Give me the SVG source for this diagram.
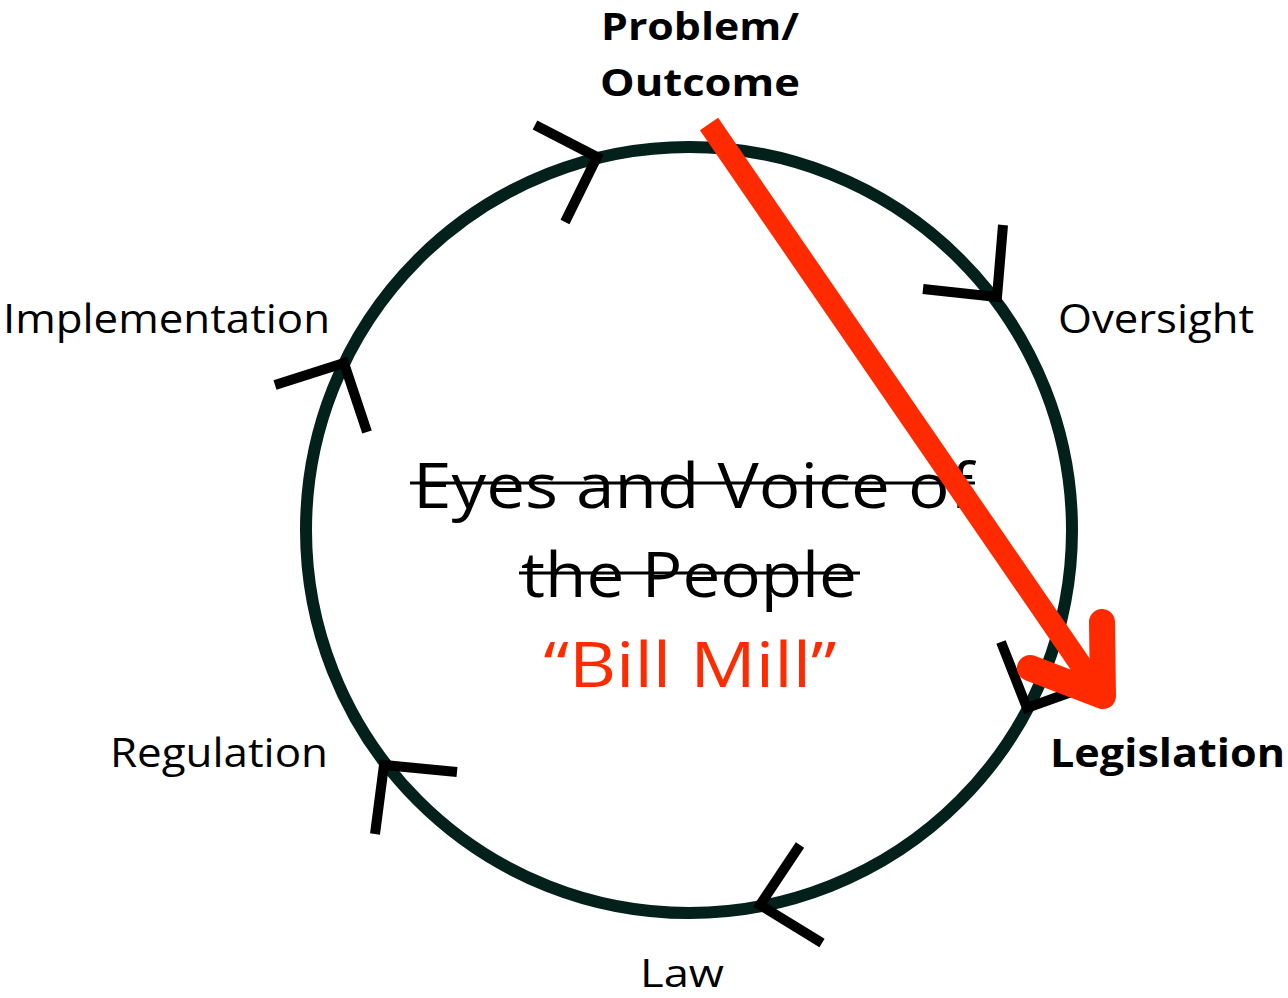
<svg xmlns="http://www.w3.org/2000/svg" width="1288" height="998" viewBox="0 0 1288 998">
<style>
.lbl{font-family:"Open Sans","Liberation Sans",sans-serif;font-size:40px;fill:#000}
.b{font-weight:bold}
.chev{fill:none;stroke:#000;stroke-width:10;stroke-linejoin:miter;stroke-linecap:butt}
.big{font-family:"Open Sans","Liberation Sans",sans-serif;font-size:62px;fill:#000}
.strike{stroke:#000;stroke-width:3}
</style>
<rect width="1288" height="998" fill="#fff"/>
<g id="cycle">
<circle cx="689" cy="530" r="383" fill="none" stroke="#03201a" stroke-width="12"/>
</g>
<g id="connectors">
<polyline class="chev" points="535,125 597,157 565,222"/>
<polyline class="chev" points="1003,225 997,297 923,289"/>
<polyline class="chev" points="1001,642 1027,708 1077,690"/>
<polyline class="chev" points="367,432 344,363 275,385"/>
<polyline class="chev" points="375,834 384,765 457,772"/>
<polyline class="chev" points="822,943 760,905 800,845"/>
</g>
<g id="center">
<text class="big" x="693" y="508" text-anchor="middle" textLength="560" lengthAdjust="spacingAndGlyphs">Eyes and Voice of</text>
<line class="strike" x1="410" y1="483" x2="975" y2="483"/>
<text class="big" x="689" y="597" text-anchor="middle" textLength="336" lengthAdjust="spacingAndGlyphs">the People</text>
<line class="strike" x1="519" y1="573" x2="860" y2="573"/>
<text class="big" x="690" y="687" text-anchor="middle" style="fill:#ff2a00" textLength="293" lengthAdjust="spacingAndGlyphs">“Bill Mill”</text>
</g>
<g id="red-arrow">
<line x1="709" y1="124" x2="1098" y2="690" stroke="#ff2a00" stroke-width="22" stroke-linecap="butt"/>
<polyline points="1030,668 1103,696 1102,622" fill="none" stroke="#ff2a00" stroke-width="26" stroke-linecap="round" stroke-linejoin="round"/>
</g>
<g id="node-problem">
<text class="lbl b" x="700" y="40" text-anchor="middle" style="font-size:38px" textLength="198" lengthAdjust="spacingAndGlyphs">Problem/</text>
<text class="lbl b" x="700" y="96" text-anchor="middle" style="font-size:38px" textLength="200" lengthAdjust="spacingAndGlyphs">Outcome</text>
</g>
<g id="node-oversight"><text class="lbl" x="1058" y="333" textLength="196" lengthAdjust="spacingAndGlyphs">Oversight</text></g>
<g id="node-legislation"><text class="lbl b" x="1050" y="767" textLength="235" lengthAdjust="spacingAndGlyphs">Legislation</text></g>
<g id="node-law"><text class="lbl" x="640" y="987" style="font-size:38px" textLength="84" lengthAdjust="spacingAndGlyphs">Law</text></g>
<g id="node-regulation"><text class="lbl" x="110" y="767" textLength="218" lengthAdjust="spacingAndGlyphs">Regulation</text></g>
<g id="node-implementation"><text class="lbl" x="3" y="333" textLength="327" lengthAdjust="spacingAndGlyphs">Implementation</text></g>
</svg>
